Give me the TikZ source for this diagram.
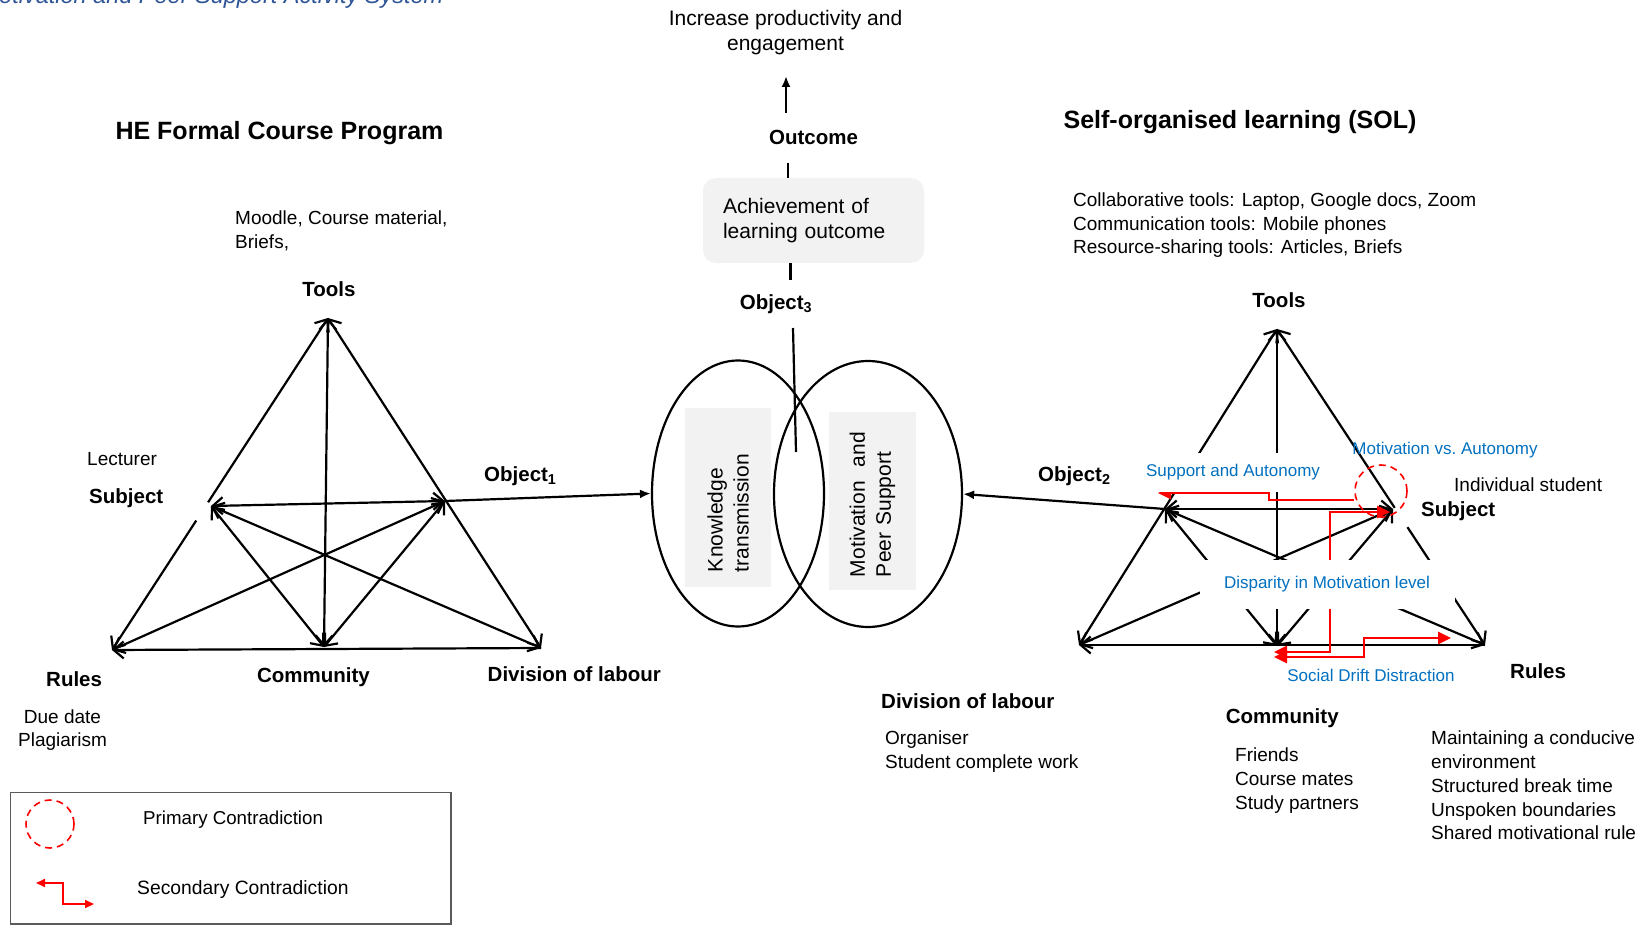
\documentclass[tikz,border=0pt]{standalone}
\usepackage{fontspec}
\setmainfont{Liberation Sans}
\usetikzlibrary{calc, arrows.meta, shapes.geometric}
\definecolor{titleBlue}{RGB}{47, 85, 151}
\definecolor{noteBlue}{RGB}{0, 112, 192}
\definecolor{contraRed}{RGB}{255, 0, 0}
\definecolor{boxBg}{RGB}{242, 242, 242}
\definecolor{legendGray}{RGB}{90, 90, 90}

\begin{document}
\begin{tikzpicture}[x=1pt, y=-1pt,
  >={Straight Barb[length=10pt,width=17pt]},
  headtxt/.style={font=\fontsize{25}{30}\selectfont\bfseries, inner sep=0pt},
  vlabel/.style={font=\fontsize{20.5}{25}\selectfont\bfseries, inner sep=0pt},
  plaintxt/.style={font=\fontsize{19}{23.5}\selectfont, inner sep=0pt, align=left},
  bluenote/.style={font=\fontsize{17}{20}\selectfont, text=noteBlue, inner sep=0pt},
  gapbox/.style={fill=white, inner xsep=8pt},
  tline/.style={line width=2.2pt},
  ptrarrow/.style={line width=2.2pt, -{Latex[length=11pt,width=9pt]}},
  contraline/.style={draw=contraRed, line width=2.6pt, >={Triangle[length=13pt,width=12pt]}},
  primcirc/.style={circle, draw=contraRed, line width=1.6pt, dash pattern=on 7pt off 5pt,
                   minimum size=52pt, inner sep=0pt},
  rotbox/.style={fill=boxBg, rotate=90, inner ysep=0pt, align=left,
                 font=\fontsize{21}{26}\selectfont}]

  \useasboundingbox (0,0) rectangle (1644,925);
  \clip (0,0) rectangle (1644,925);

  \node[font=\fontsize{23.5}{28}\selectfont\itshape, text=titleBlue, anchor=base west,
        inner sep=0pt] (fig) at (-1,3.5) {otivation and Peer Support Activity System};

  \node[headtxt] (heL) at (279.5,133) {HE Formal Course Program};
  \node[headtxt] (heR) at (1240,122.5) {Self-organised learning (SOL)};

  \node[font=\fontsize{21}{25}\selectfont, align=center, anchor=north, inner sep=0pt]
    (incr) at (785.5,10.5) {Increase productivity and\\engagement};
  \node[vlabel] (outc) at (813.5,137) {Outcome};
  \node[fill=boxBg, rounded corners=13pt, minimum height=85pt, text width=181pt,
        inner xsep=20pt, align=left, font=\fontsize{21}{25}\selectfont]
    (achv) at (813.5,220.5) {Achievement of\\learning outcome};
  \node[vlabel] (obj3) at (776,304) {Object\textsubscript{3}};

  \coordinate (upTail) at (786,113);
  \coordinate (upHead) at (786,76);
  \coordinate (outcLow) at (788,163);
  \coordinate (obj3Top) at (790.5,280);
  \coordinate (obj3Low) at (793,328);
  \coordinate (overlap) at (796,452);
  \draw[ptrarrow] (upTail) -- (upHead);
  \draw[tline] (outcLow) -- (outcLow |- achv.north);
  \draw[tline] (achv.south -| obj3Top) -- (obj3Top);
  \draw[tline] (obj3Low) -- (overlap);

  \node[ellipse, draw, line width=2.2pt, minimum width=172pt, minimum height=266pt]
    (kt) at (738,493.5) {};
  \node[ellipse, draw, line width=2.2pt, minimum width=188pt, minimum height=266pt]
    (mps) at (868,494) {};
  \node[rotbox, minimum width=179pt, minimum height=86pt, text width=149pt, inner xsep=15pt]
    (ktbox) at (728,497.5) {Knowledge\\transmission};
  \node[rotbox, minimum width=178pt, minimum height=87pt, text width=152pt, inner xsep=13pt]
    (mpbox) at (872.5,501) {Motivation\ \ and\\Peer Support};

  \coordinate (T1) at (328,318);
  \coordinate (S1) at (211,506);
  \coordinate (O1) at (445,501);
  \coordinate (R1) at (112,650);
  \coordinate (C1) at (324,647);
  \coordinate (D1) at (541,648);

  \draw[tline, <-] (T1) -- ($(T1)!0.555!(R1)$);
  \draw[tline, ->] ($(T1)!0.61!(R1)$) -- (R1);
  \draw[tline, <->] (T1) -- (D1);
  \draw[tline, <->] (T1) -- (C1);
  \draw[tline, <->] (S1) -- (O1);
  \draw[tline, <->] (S1) -- (C1);
  \draw[tline, <->] (S1) -- (D1);
  \draw[tline, <->] (O1) -- (R1);
  \draw[tline, <->] (O1) -- (C1);
  \draw[tline, <-] (R1) -- (D1);
  \draw[ptrarrow] (O1) -- (kt.west);

  \node[plaintxt, anchor=north west] (toolsL) at (235,211) {Moodle, Course material,\\Briefs,};
  \node[vlabel] (toolL) at (329,289) {Tools};
  \node[plaintxt, anchor=west] (lect) at (87,459) {Lecturer};
  \node[vlabel, anchor=west] (subjL) at (89,498) {Subject};
  \node[vlabel, anchor=west] (obj1) at (484,476) {Object\textsubscript{1}};
  \node[vlabel, anchor=west] (rulL) at (46,679.5) {Rules};
  \node[vlabel] (comL) at (313.5,677) {Community};
  \node[vlabel, anchor=west] (divL) at (487.5,674) {Division of labour};
  \node[plaintxt, align=center, anchor=north, text depth=0pt] (rulesL) at (62.5,709.5) {Due date\\Plagiarism};

  \coordinate (T2) at (1277,329);
  \coordinate (L2) at (1165,509);
  \coordinate (S2) at (1393,509);
  \coordinate (B1) at (1079,645);
  \coordinate (B2) at (1277,646);
  \coordinate (B3) at (1485,645);

  \draw[tline, <->] (T2) -- (B1);
  \draw[tline, <-] (T2) -- ($(T2)!0.566!(B3)$);
  \draw[tline, ->] ($(T2)!0.627!(B3)$) -- (B3);
  \draw[tline, <->] (T2) -- (B2);
  \draw[tline, <->] (L2) -- (S2);
  \draw[tline, <->] (L2) -- (B2);
  \draw[tline, <->] (L2) -- (B3);
  \draw[tline, <->] (S2) -- (B1);
  \draw[tline, <->] (S2) -- (B2);
  \draw[tline, <-] (B1) -- (B3);
  \draw[ptrarrow] (L2) -- (mps.east);

  \node[primcirc] (prim) at (1381,491) {};
  \coordinate (saTip) at (1158,493);
  \draw[contraline, <-] (saTip) -| (1269,500) -- (prim.west |- 0,500);
  \draw[contraline, <->] ($(B2)+(-3,6)$) -| ($(S2)+(-63,3)$) -- ($(S2)+(-3,3)$);
  \draw[contraline, <->] ($(B2)+(-3,11)$) -| ($(B2)+(87,-8)$) -- ($(B3)+(-34,-7)$);

  \node[bluenote, gapbox, minimum height=39pt] (supaut) at (1233,472) {Support and Autonomy};
  \node[bluenote, fill=white, minimum width=255pt, minimum height=49pt]
    (disp) at (1327,584.5) {Disparity in Motivation level};
  \node[bluenote] (motaut) at (1445,450) {Motivation vs.\ Autonomy};
  \node[bluenote] (drift) at (1371,675) {Social Drift Distraction};

  \node[plaintxt, anchor=north west] (toolsR) at (1073,193)
    {Collaborative tools: Laptop, Google docs, Zoom\\Communication tools: Mobile phones\\Resource-sharing tools: Articles, Briefs};
  \node[vlabel] (toolR) at (1279,300) {Tools};
  \node[plaintxt, anchor=west] (indiv) at (1454,485) {Individual student};
  \node[vlabel, anchor=west] (subjR) at (1421,511) {Subject};
  \node[vlabel, anchor=west] (obj2) at (1038,476) {Object\textsubscript{2}};
  \node[vlabel, anchor=west] (rulR) at (1510,671.5) {Rules};
  \node[vlabel, anchor=west] (comR) at (1225.7,718) {Community};
  \node[vlabel, anchor=west] (divR) at (881,701.5) {Division of labour};
  \node[plaintxt, anchor=north west] (divlist) at (885,731) {Organiser\\Student complete work};
  \node[plaintxt, font=\fontsize{19}{24}\selectfont, anchor=north west] (comlist) at (1235,748)
    {Friends\\Course mates\\Study partners};
  \node[plaintxt, font=\fontsize{19}{23.75}\selectfont, anchor=north west] (rullist) at (1431,731)
    {Maintaining a conducive\\environment\\Structured break time\\Unspoken boundaries\\Shared motivational rule};

  \node[draw=legendGray, line width=1.5pt, minimum width=440.5pt, minimum height=131.5pt,
        inner sep=0pt] (legend) at (230.75,858.25) {};
  \node[primcirc, minimum size=48pt] (legcirc) at (50,824) {};
  \node[font=\fontsize{18.7}{22}\selectfont, anchor=west, inner sep=0pt] (legprim) at (143,819.5)
    {Primary Contradiction};
  \node[font=\fontsize{19.3}{23}\selectfont, anchor=west, inner sep=0pt] (legsec) at (137,889.5)
    {Secondary Contradiction};
  \coordinate (legA) at (36,883);
  \coordinate (legB) at (94,904);
  \draw[contraline, line width=2pt, >={Triangle[length=9pt,width=8pt]}, <->]
    (legA) -| ($(legA)!0.47!(legB)$) |- (legB);
\end{tikzpicture}
\end{document}
